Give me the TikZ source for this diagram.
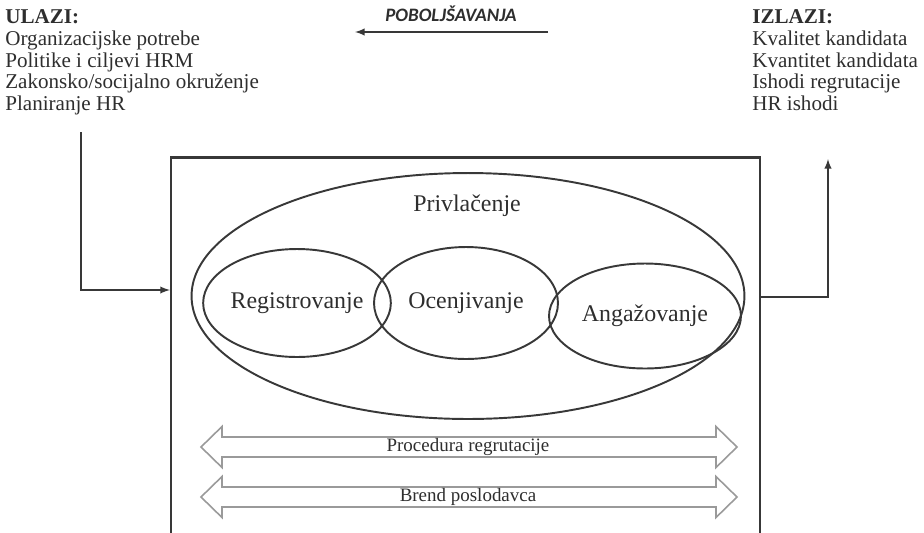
\documentclass[tikz,border=0pt]{standalone}
\usepackage{fontspec}
\setmainfont{Liberation Serif}
\newfontfamily\carlito{Carlito}
\usepackage{xcolor}
\usetikzlibrary{shapes.geometric,positioning}

\definecolor{tekst}{HTML}{2E2E2E}
\definecolor{linija}{HTML}{383838}
\definecolor{siva}{HTML}{9A9A9A}

\tikzset{
  lista/.style={anchor=north west, align=left, inner sep=0pt, text=tekst,
    font=\fontsize{12}{12.45}\selectfont},
  faza/.style={ellipse, draw=linija, line width=1.1pt, inner sep=0pt,
    text=tekst, font=\fontsize{13.6}{14}\selectfont},
  strelica/.style={draw=siva, line width=0.9pt, fill=white},
  traka/.style={inner sep=0pt, text=tekst, font=\fontsize{10.8}{11}\selectfont},
  veza/.style={draw=linija, line width=0.9pt, -latex}
}

\begin{document}
\begin{tikzpicture}[x=0.02cm, y=-0.02cm]
\useasboundingbox (0,0) rectangle (924,532);
\clip (0,0) rectangle (924,532);

% inputs and outputs
\node[lista] (ulazi) at (5,9) {\textbf{ULAZI:}\\Organizacijske potrebe\\Politike i ciljevi HRM\\Zakonsko/socijalno okruženje\\Planiranje HR};
\node[lista] (izlazi) at (752,9) {\textbf{IZLAZI:}\\Kvalitet kandidata\\Kvantitet kandidata\\Ishodi regrutacije\\HR ishodi};

% feedback arrow
\node[inner sep=0pt, text=tekst, font=\carlito\bfseries\itshape\fontsize{10.8}{11}\selectfont] (poboljsanje) at (451,14) {POBOLJŠAVANJA};
\coordinate (pobA) at (548,32);
\coordinate (pobB) at (355,32);
\draw[draw=linija, line width=0.9pt, -latex] (pobA) -- (pobB);

% the process box, open at the bottom
\node[draw=linija, line width=1.3pt, minimum width=11.78cm, minimum height=8.1cm, inner sep=0pt] (proces) at (465.5,360) {};

% attraction with its three phases
\node[faza, minimum width=11.06cm, minimum height=4.92cm] (privlacenje) at (468,296) {};
\node[text=tekst, font=\fontsize{13.6}{14}\selectfont, inner sep=0pt] (privlacenjeT) at (467,206) {Privlačenje};
\node[faza, minimum width=3.7cm, minimum height=2.16cm] (registrovanje) at (297,303) {Registrovanje};
\node[faza, minimum width=3.68cm, minimum height=2.24cm] (ocenjivanje) at (466,303) {Ocenjivanje};
\node[faza, minimum width=3.84cm, minimum height=2.1cm] (angazovanje) at (645,316) {Angažovanje};

% double arrows across the box
\foreach \y/\tekst/\ime in {447/Procedura regrutacije/procedura, 497/Brend poslodavca/brend} {
  \draw[strelica] (201,\y) -- (222,\y-20.5) -- (222,\y-10) -- (716,\y-10) -- (716,\y-20.5)
    -- (737,\y) -- (716,\y+20.5) -- (716,\y+10) -- (222,\y+10) -- (222,\y+20.5) -- cycle;
  \node[traka] (\ime) at (468,\y) {\tekst};
}

% connectors into and out of the box
\coordinate (ulaz) at (81,132);
\coordinate (ulazKraj) at (proces.west |- 0,290);
\coordinate (izlazPocetak) at (proces.east |- 0,297);
\coordinate (izlaz) at (828,159);
\draw[veza] (ulaz) |- (ulazKraj);
\draw[veza] (izlazPocetak) -| (izlaz);
\end{tikzpicture}
\end{document}
